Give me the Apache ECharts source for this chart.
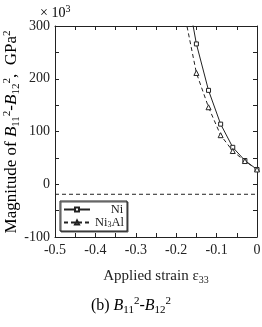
<!DOCTYPE html>
<html>
<head>
<meta charset="utf-8">
<script src="https://cdn.jsdelivr.net/npm/echarts@6/dist/echarts.min.js"></script>
<style>
  html, body { margin: 0; padding: 0; background: #fff; }
  #chart { width: 262px; height: 327px; }
</style>
</head>
<body>
<div id="chart"></div>
<script>
// strain values (epsilon 33) and magnitudes (x 10^3 GPa^2)
const strain = [-0.18, -0.15, -0.12, -0.09, -0.06, -0.03, 0];
const ni = [393, 266, 178, 114, 70, 45, 28];
const ni3al = [325, 211, 146, 93, 63, 44, 28];
const refLevel = -19;
const xTicks = [-0.5, -0.4, -0.3, -0.2, -0.1, 0];

const font = '"Liberation Serif", "DejaVu Serif", serif';
const ink = '#222';
const mkRich = (size, subSize, lh) => ({
  n: { fontFamily: font, fontSize: size, color: ink },
  i: { fontFamily: font, fontSize: size, fontStyle: 'italic', color: ink },
  sub: { fontFamily: font, fontSize: subSize, color: ink, verticalAlign: 'bottom', lineHeight: lh },
  sup: { fontFamily: font, fontSize: subSize, color: ink, verticalAlign: 'top', lineHeight: lh }
});

const pair = (xs, ys) => xs.map((x, k) => [x, ys[k]]);

const chart = echarts.init(document.getElementById('chart'));

const tickStyle = { color: ink, width: 1 };
const baseAxis = {
  axisLine: { show: true, onZero: false, lineStyle: tickStyle },
  axisTick: { show: true, inside: true, length: 4, lineStyle: tickStyle },
  minorTick: { show: true, splitNumber: 2, length: 4, lineStyle: tickStyle },
  splitLine: { show: false }
};

chart.setOption({
  animation: false,
  grid: { left: 55, right: 5, top: 26, bottom: 90, outerBoundsMode: 'none' },
  xAxis: [
    Object.assign({}, baseAxis, {
      type: 'value', min: -0.5, max: 0, interval: 0.1,
      axisLabel: {
        fontFamily: font, fontSize: 14, color: ink, margin: 6,
        formatter: v => {
          const t = xTicks.find(k => Math.abs(k - v) < 1e-9);
          return t === undefined ? '' : String(t);
        }
      },
      name: '{n|Applied strain ε}{sub|33}',
      nameLocation: 'middle', nameGap: 30,
      nameTextStyle: { rich: mkRich(15, 10, 18) }
    }),
    Object.assign({}, baseAxis, {
      type: 'value', min: -0.5, max: 0, interval: 0.1, position: 'top',
      axisLabel: { show: false }
    })
  ],
  yAxis: [
    Object.assign({}, baseAxis, {
      type: 'value', min: -100, max: 300, interval: 100,
      axisLabel: { fontFamily: font, fontSize: 14, color: ink, margin: 5 }
    }),
    Object.assign({}, baseAxis, {
      type: 'value', min: -100, max: 300, interval: 100, position: 'right',
      axisLabel: { show: false }
    })
  ],
  legend: {
    left: 60, top: 201, orient: 'vertical',
    itemWidth: 26, itemHeight: 5, itemGap: 0,
    padding: [2, 3, 2, 3],
    borderColor: ink, borderWidth: 1,
    shadowColor: '#555', shadowOffsetX: 1, shadowOffsetY: 1, shadowBlur: 0,
    backgroundColor: '#fff',
    data: ['Ni', 'Ni3Al'],
    formatter: nm => nm === 'Ni3Al' ? '{n|Ni}{sub|3}{n|Al}' : '{n|     Ni}',
    textStyle: {
      rich: {
        n: { fontFamily: font, fontSize: 12.5, color: ink },
        sub: { fontFamily: font, fontSize: 8, color: ink, verticalAlign: 'bottom', lineHeight: 13 }
      }
    }
  },
  series: [
    {
      name: 'Ni', type: 'line', data: pair(strain, ni),
      symbol: 'rect', symbolSize: 4, showAllSymbol: true,
      lineStyle: { color: ink, width: 1 },
      itemStyle: { color: '#fff', borderColor: ink, borderWidth: 1 },
      clip: true
    },
    {
      name: 'Ni3Al', type: 'line', data: pair(strain, ni3al),
      symbol: 'triangle', symbolSize: 5, showAllSymbol: true,
      lineStyle: { color: ink, width: 1, type: [4, 3] },
      itemStyle: { color: '#fff', borderColor: ink, borderWidth: 1 },
      clip: true
    },
    {
      name: 'ref', type: 'line', data: [[-0.5, refLevel], [0, refLevel]],
      symbol: 'none', silent: true,
      lineStyle: { color: ink, width: 1, type: [4, 3] }
    }
  ],
  graphic: [
    {
      // y axis title, drawn rotated
      type: 'text', x: 12, y: 132, rotation: Math.PI / 2,
      style: {
        text: '{n|Magnitude of }{i|B}{sub|11}{sup|2}{n|-}{i|B}{sub|12}{sup|2}{n|,  GPa}{sup|2}',
        rich: mkRich(17, 11, 20),
        align: 'center', verticalAlign: 'middle'
      }
    },
    {
      type: 'text', left: 40, top: 4,
      style: { text: '{n|× 10}{sup|3}', rich: mkRich(14, 10, 18) }
    },
    {
      type: 'text', left: 'center', top: 296,
      style: {
        text: '{n|(b) }{i|B}{sub|11}{sup|2}{n|-}{i|B}{sub|12}{sup|2}',
        rich: mkRich(16, 11, 20)
      }
    }
  ]
});
</script>
</body>
</html>
